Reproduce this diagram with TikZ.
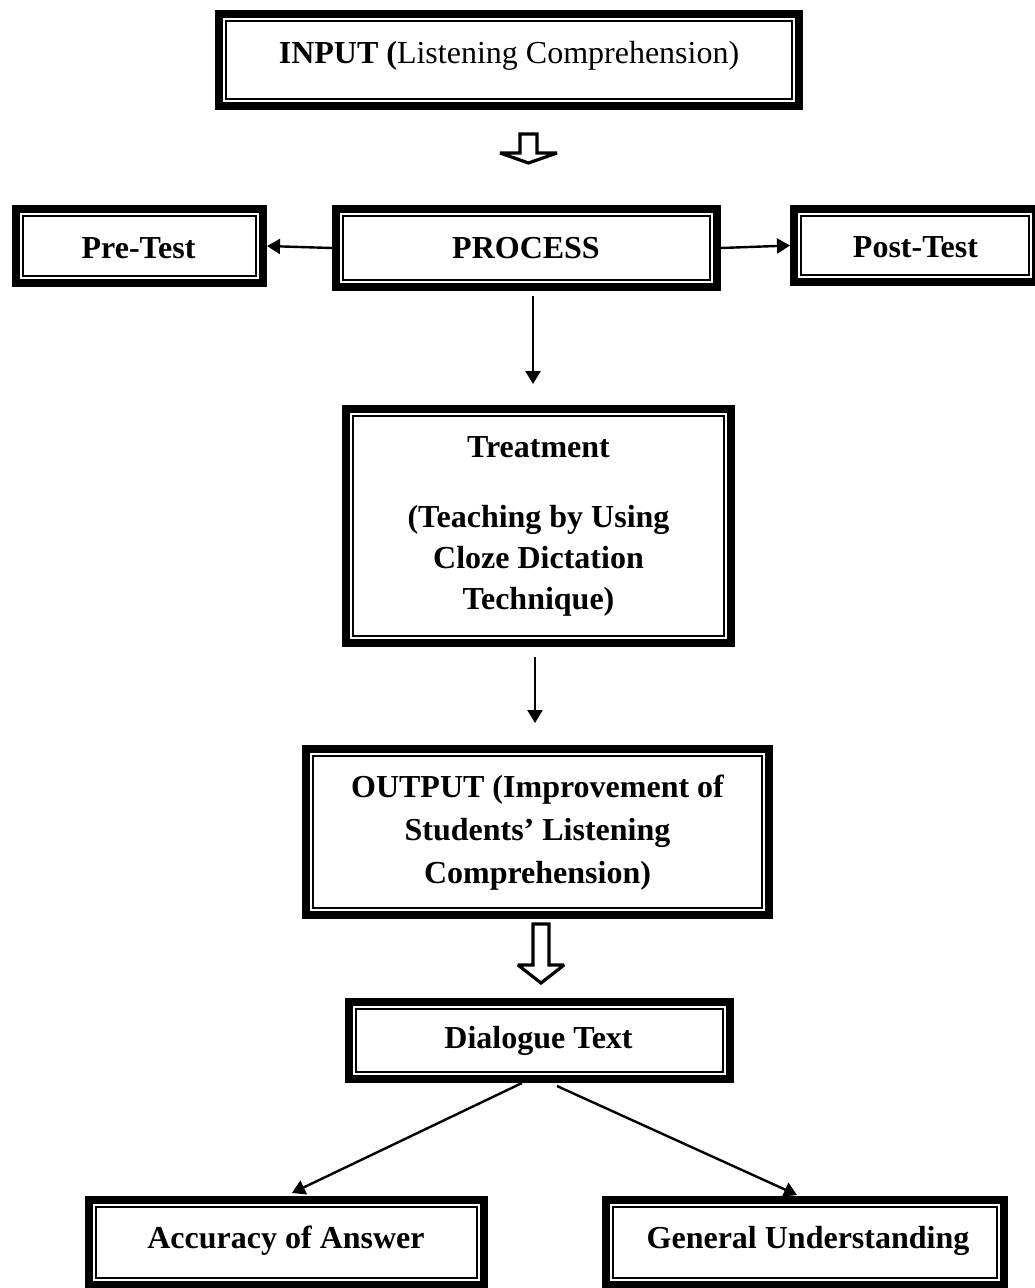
\documentclass[tikz,border=0pt]{standalone}
\usepackage{fontspec}
\setmainfont{Liberation Serif}
\usetikzlibrary{arrows.meta}
\begin{document}
\begin{tikzpicture}[x=1pt,y=-1pt,
  frame/.style={shape=rectangle, draw=none, inner sep=0pt, outer sep=0pt},
  lbl/.style={font=\fontsize{32}{41}\selectfont\bfseries, inner sep=0pt, anchor=base, align=center},
  arr/.style={line width=2.4pt, -{Triangle[length=13pt,width=15pt]}},
  blockarrow/.style={draw, line width=3.2pt, fill=white, line join=miter, miter limit=3}
]
\useasboundingbox (0,0) rectangle (1035,1288);
\clip (0,0) rectangle (1035,1288);

% box frames: name, centre x, centre y, width, height
\newcommand\boxat[5]{\node[frame, minimum width=#4pt, minimum height=#5pt] (#1) at (#2,#3) {};}
\boxat{input}{509}{60}{588}{100}
\boxat{pretest}{139.5}{246}{255}{82}
\boxat{process}{526.5}{248}{389}{86}
\boxat{posttest}{915}{245.5}{250}{81}
\boxat{treat}{538.5}{526}{393}{242}
\boxat{output}{537.5}{832}{471}{174}
\boxat{dialog}{539.5}{1040.5}{389}{85}
\boxat{accuracy}{286.5}{1242.5}{403}{93}
\boxat{general}{805}{1242.5}{406}{93}

% thick-thin double border around every box
\foreach \n in {input,pretest,process,posttest,treat,output,dialog,accuracy,general}{
  \draw[line width=8pt] ([shift={(4pt,4pt)}]\n.south west) rectangle ([shift={(-4pt,-4pt)}]\n.north east);
  \draw[line width=1.9pt] ([shift={(11.2pt,11.2pt)}]\n.south west) rectangle ([shift={(-11.2pt,-11.2pt)}]\n.north east);
}

% texts (multi-line nodes are placed by the baseline of their last line)
\node[lbl] (tinput) at (509,63) {INPUT (\textmd{Listening Comprehension)}};
\node[lbl] (tpre) at (138.5,258) {Pre-Test};
\node[lbl] (tprocess) at (526,258) {PROCESS};
\node[lbl] (tpost) at (915.5,257) {Post-Test};
\node[lbl] (ttreat) at (538.5,609) {Treatment\\[29pt](Teaching by Using\\Cloze Dictation\\Technique)};
\node[lbl, font=\fontsize{32}{43}\selectfont\bfseries] (toutput) at (537.5,883) {OUTPUT (Improvement of\\Students’ Listening\\Comprehension)};
\node[lbl] (tdialog) at (538.5,1048) {Dialogue Text};
\node[lbl] (tacc) at (286,1248) {Accuracy of Answer};
\node[lbl] (tgen) at (808,1248) {General Understanding};

% hollow block arrows
\coordinate (b1) at (528.5,133);
\draw[blockarrow] (520,134) -- (520,153) -- (500,153) -- (528.5,163) -- (557,153) -- (537,153) -- (537,134) -- cycle;
\coordinate (b2) at (541,923);
\draw[blockarrow] (533,924) -- (533,965) -- (518,965) -- (541,983) -- (564,965) -- (549,965) -- (549,924) -- cycle;

% connectors
\draw[arr] (process.west) -- (pretest.east);
\draw[arr] (process.east) -- (posttest.west);
\draw[arr] ([shift={(6.5pt,-5pt)}]process.south) -- ([shift={(-5.5pt,21pt)}]treat.north);
\draw[arr] ([shift={(-3.5pt,-10pt)}]treat.south) -- ([shift={(-2.5pt,22pt)}]output.north);
\draw[arr] ([shift={(-17.5pt,0pt)}]dialog.south) -- ([shift={(5.5pt,3pt)}]accuracy.north);
\draw[arr] ([shift={(17.5pt,-3pt)}]dialog.south) -- ([shift={(-8pt,1pt)}]general.north);
\end{tikzpicture}
\end{document}
